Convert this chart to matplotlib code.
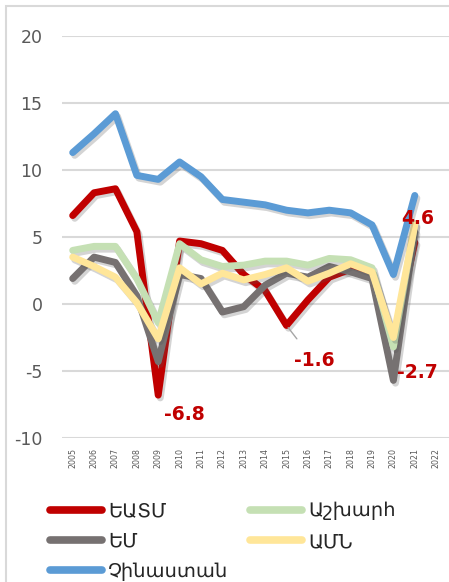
import matplotlib
matplotlib.use("Agg")
import matplotlib.pyplot as plt
import matplotlib.patheffects as pe
from matplotlib.patches import Rectangle
from matplotlib.lines import Line2D

plt.rcParams["axes.unicode_minus"] = False

years = ["2005", "2006", "2007", "2008", "2009", "2010", "2011", "2012", "2013",
         "2014", "2015", "2016", "2017", "2018", "2019", "2020", "2021", "2022"]

eaeu = [6.6, 8.3, 8.6, 5.4, -6.8, 4.7, 4.5, 4.0, 2.2, 1.0, -1.6, 0.3, 2.0, 2.6, 2.3, -2.7, 4.6]
eu = [1.9, 3.5, 3.1, 0.6, -4.3, 2.2, 1.9, -0.6, -0.2, 1.4, 2.3, 2.0, 2.8, 2.4, 1.9, -5.7, 5.4]
world = [4.0, 4.3, 4.3, 1.9, -1.4, 4.5, 3.3, 2.8, 2.9, 3.2, 3.2, 2.9, 3.4, 3.3, 2.7, -3.2, 6.0]
usa = [3.5, 2.8, 2.0, 0.1, -2.6, 2.7, 1.5, 2.3, 1.8, 2.2, 2.7, 1.7, 2.3, 3.0, 2.4, -2.5, 5.9]
china = [11.3, 12.7, 14.2, 9.6, 9.3, 10.6, 9.5, 7.8, 7.6, 7.4, 7.0, 6.8, 7.0, 6.8, 5.9, 2.2, 8.1]

names = ["ԵԱՏՄ", "ԵՄ", "Աշխարհ", "ԱՄՆ", "Չինաստան"]
series = [eaeu, eu, world, usa, china]
colors = ["#C00000", "#767171", "#C5E0B4", "#FFE699", "#5B9BD5"]

W, H = 449, 582
fig = plt.figure(figsize=(W / 100, H / 100), dpi=100)
fig.patch.set_facecolor("white")

# chart border
fig.patches.append(Rectangle((6 / W, -0.05), 1.1, 1 - 6 / H + 0.05, transform=fig.transFigure,
                             fill=False, edgecolor="#d9d9d9", linewidth=1.5))

left, right, top, bottom = 62, 449, 36, 438
ax = fig.add_axes([left / W, 1 - bottom / H, (right - left) / W, (bottom - top) / H])
ax.set_facecolor("none")
for s in ax.spines.values():
    s.set_visible(False)

ax.set_ylim(-10, 20)
ax.set_yticks([-10, -5, 0, 5, 10, 15, 20])
ax.set_xlim(-0.5, len(years) - 0.5 + 0.1)
ax.set_xticks(range(len(years)))
ax.set_xticklabels(years, rotation=90, fontsize=5.7, color="#595959")
ax.tick_params(axis="x", length=0, pad=7)
ax.tick_params(axis="y", length=0, pad=14, labelsize=12.5, labelcolor="#595959")
ax.grid(axis="y", color="#d9d9d9", linewidth=1.5)
ax.set_axisbelow(True)

shadow = [pe.SimpleLineShadow(offset=(1.5, -2), shadow_color="#555555", alpha=0.25), pe.Normal()]
xs = list(range(len(eaeu)))
for name, vals, c in zip(names, series, colors):
    ax.plot(xs, vals, color=c, linewidth=5, solid_joinstyle="round",
            solid_capstyle="round", path_effects=shadow, label=name)

# data labels
lab = dict(color="#C00000", fontsize=13.5, fontweight="bold", ha="center", va="center")
ax.annotate("-6.8", xy=(4, eaeu[4]), xytext=(184, H - 415), textcoords="figure pixels", **lab)
ax.annotate("-1.6", xy=(10, eaeu[10]), xytext=(314, H - 361), textcoords="figure pixels",
            arrowprops=dict(arrowstyle="-", color="#a6a6a6", lw=1, shrinkA=9, shrinkB=2), **lab)
ax.annotate("-2.7", xy=(15, eaeu[15]), xytext=(417, H - 373), textcoords="figure pixels", **lab)
ax.annotate("4.6", xy=(16, eaeu[16]), xytext=(418, H - 219), textcoords="figure pixels", **lab)

order = ["ԵԱՏՄ", "ԵՄ", "Չինաստան", "Աշխարհ", "ԱՄՆ"]
leg_handles = [Line2D([], [], color=colors[names.index(n)], linewidth=5.5, solid_capstyle="round")
               for n in order]
leg = fig.legend(leg_handles, order, ncol=2, loc="upper left",
                 bbox_to_anchor=(32 / W, 1 - 484 / H), frameon=False,
                 fontsize=14, handlelength=2.7, handletextpad=0.3,
                 columnspacing=1.1, labelspacing=0.58)
for t in leg.get_texts():
    t.set_color("#262626")

fig.savefig("out.png", dpi=100)
